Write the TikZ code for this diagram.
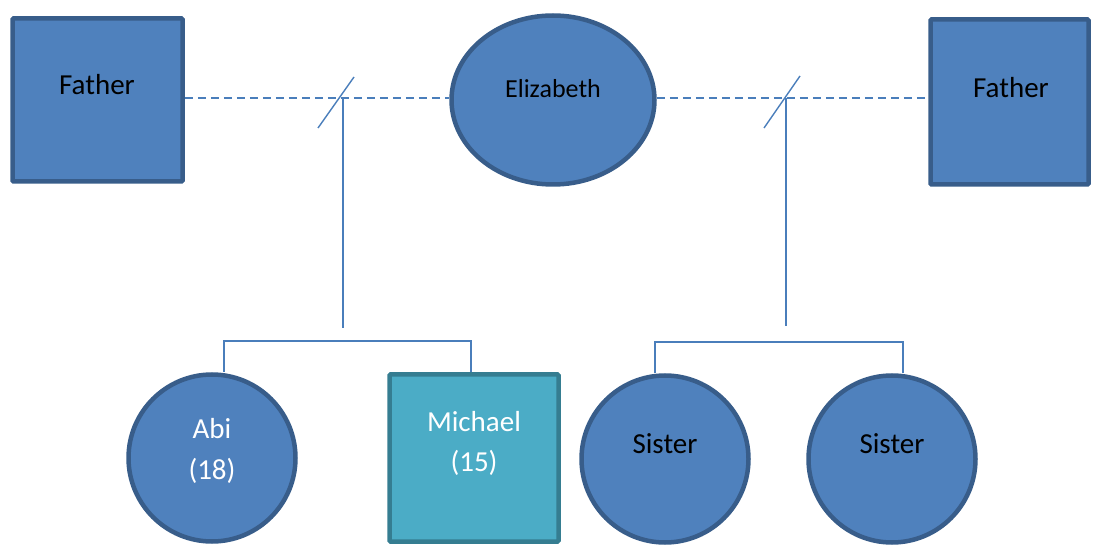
\documentclass[tikz,border=0pt]{standalone}
\usepackage{fontspec}
\setmainfont{Carlito}
\usetikzlibrary{calc,shapes.geometric}
\definecolor{boxfill}{HTML}{4F81BD}
\definecolor{boxline}{HTML}{385D8A}
\definecolor{sonfill}{HTML}{4BACC6}
\definecolor{sonline}{HTML}{357D91}
\definecolor{linkcol}{HTML}{4A7EBB}
\tikzset{
  male/.style={draw=boxline, fill=boxfill, line width=4.5pt, rectangle, rounded corners=1pt, inner sep=0pt},
  female/.style={draw=boxline, fill=boxfill, line width=4.5pt, circle, inner sep=0pt, minimum size=167pt},
  son/.style={draw=sonline, fill=sonfill, line width=4.5pt, rectangle, rounded corners=1pt, inner sep=0pt},
  persontext/.style={inner sep=0pt, font=\fontsize{29}{36}\selectfont, align=center},
  link/.style={draw=linkcol, line width=1.4pt},
  marriage/.style={link, dash pattern=on 8pt off 5pt},
}
\begin{document}
\begin{tikzpicture}[x=1pt, y=-1pt]
\useasboundingbox (0,0) rectangle (1093,545);

% parents
\node[male, minimum width=170pt, minimum height=163pt] (fatherL) at (97.5,100) {};
\node[persontext] at (97,85) {Father};
\node[draw=boxline, fill=boxfill, line width=4.5pt, ellipse, inner sep=0pt,
      minimum width=203pt, minimum height=169pt] (eliz) at (553,100) {};
\node[persontext, font=\fontsize{26}{32}\selectfont] at (553,89) {Elizabeth};
\node[male, minimum width=158pt, minimum height=165pt] (fatherR) at (1009.5,102) {};
\node[persontext] at (1011,88) {Father};

% children
\node[female] (abi) at (212,458) {};
\node[persontext, text=white] at (212,451) {Abi\\[5pt](18)};
\node[son, minimum width=169pt, minimum height=167pt] (michael) at (474,458) {};
\node[persontext, text=white] at (474,443) {Michael\\[4pt](15)};
\node[female] (sis1) at (665,459) {};
\node[persontext] at (665,444) {Sister};
\node[female] (sis2) at (892,459) {};
\node[persontext] at (892,444) {Sister};

% marriage lines
\coordinate (mL) at (343,98);
\coordinate (mR) at (786,98);
\draw[marriage] (fatherL.east |- mL) -- (eliz.west |- mL);
\draw[marriage] (eliz.east |- mR) -- (fatherR.west |- mR);

% separation slashes
\draw[link] ($(mL)+(-25,30)$) -- ($(mL)+(11,-21)$);
\draw[link] ($(mR)+(-22,30)$) -- ($(mR)+(14,-22)$);

% descent lines
\coordinate (dL) at (343,328);
\coordinate (dR) at (786,326);
\draw[link] (mL) -- (dL);
\draw[link] (mR) -- (dR);

% sibling brackets
\coordinate (bL1) at (224,341);
\coordinate (bL2) at (471,341);
\coordinate (bR1) at (655,342);
\coordinate (bR2) at (903,342);
\draw[link] (abi.north -| bL1) -- (bL1) -- (bL2) -- (michael.north -| bL2);
\draw[link] (sis1.north -| bR1) -- (bR1) -- (bR2) -- (sis2.north -| bR2);
\end{tikzpicture}
\end{document}
